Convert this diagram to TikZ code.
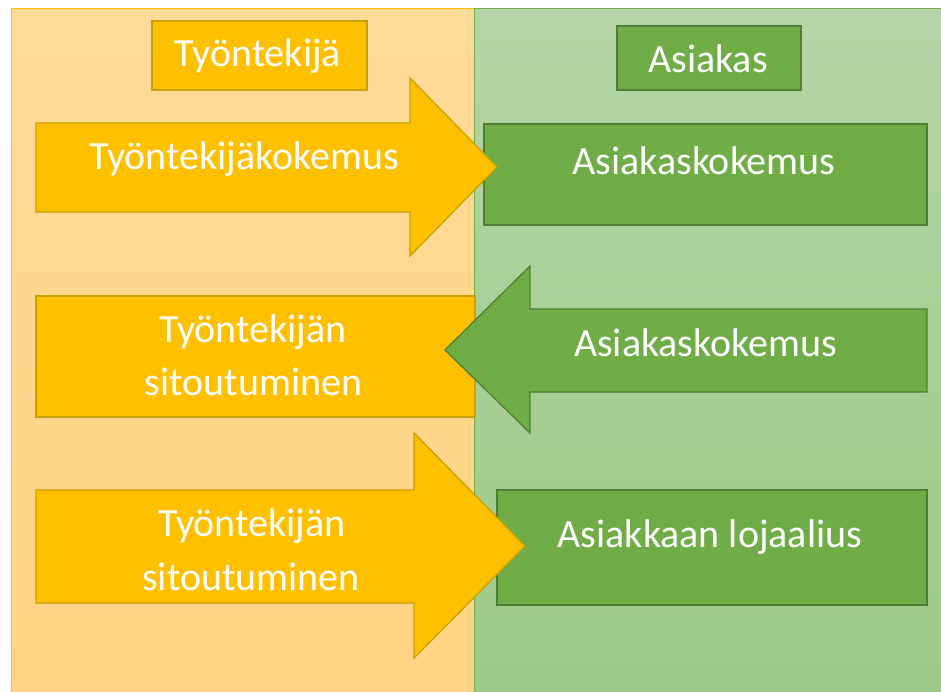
\documentclass[tikz,border=0pt]{standalone}
\usepackage{fontspec}
\setmainfont{Carlito}
\usetikzlibrary{positioning}
\definecolor{gold}{HTML}{FFC000}
\definecolor{goldline}{HTML}{C9A100}
\definecolor{leaf}{HTML}{70AD47}
\definecolor{leafline}{HTML}{507E32}
\begin{document}
\begin{tikzpicture}[x=1pt, y=-1pt,
  yelshape/.style={draw=goldline, fill=gold, line width=1.3pt, line join=miter},
  grnshape/.style={draw=leafline, fill=leaf, line width=1.3pt, line join=miter},
  lbl/.style={text=white, font=\fontsize{40}{48}\selectfont, inner sep=0pt, anchor=base}
]
\useasboundingbox[fill=white] (0,0) rectangle (941,692);

% Panels
\shade[top color={rgb,255:red,255;green,219;blue,153}, bottom color={rgb,255:red,255;green,211;blue,131}]
  (11,9) rectangle (474,692);
\draw[gold, line width=1pt] (11,692) -- (11,9) -- (474,9);
\shade[top color={rgb,255:red,181;green,213;blue,166}, bottom color={rgb,255:red,157;green,202;blue,134}]
  (474,9) rectangle (941,692);
\draw[leaf, line width=1pt] (474,692) -- (474,9) -- (941,9);

% Headers
\draw[yelshape] (152,21) rectangle (367,90);
\node[lbl] (hdrT) at (258,67) {Työntekijä};
\draw[grnshape] (617,26) rectangle (801,90);
\node[lbl] (hdrA) at (708,73) {Asiakas};

% Boxes
\draw[grnshape] (484,124) rectangle (927,225);
\draw[yelshape] (36,296) rectangle (475,417);
\draw[grnshape] (497,490) rectangle (927,605);

% Arrows
\draw[yelshape] (36,123) -- (410,123) -- (410,78) -- (497,167) -- (410,256) -- (410,212) -- (36,212) -- cycle;
\draw[grnshape] (927,309) -- (530,309) -- (530,266) -- (445,350) -- (530,433) -- (530,392) -- (927,392) -- cycle;
\draw[yelshape] (36,490) -- (414,490) -- (414,433) -- (525,546) -- (414,658) -- (414,603) -- (36,603) -- cycle;

% Row 1
\node[lbl] (tkok) at (244,170) {Työntekijäkokemus};
\node[lbl] (akok1) at (704,175) {Asiakaskokemus};

% Row 2
\node[lbl] (tsit1a) at (253,342.5) {Työntekijän};
\node[lbl] (tsit1b) at (253.5,395) {sitoutuminen};
\node[lbl] (akok2) at (705.5,356) {Asiakaskokemus};

% Row 3
\node[lbl] (tsit2a) at (252,536.5) {Työntekijän};
\node[lbl] (tsit2b) at (251,590) {sitoutuminen};
\node[lbl] (aloj) at (710,547) {Asiakkaan lojaalius};

\end{tikzpicture}
\end{document}
